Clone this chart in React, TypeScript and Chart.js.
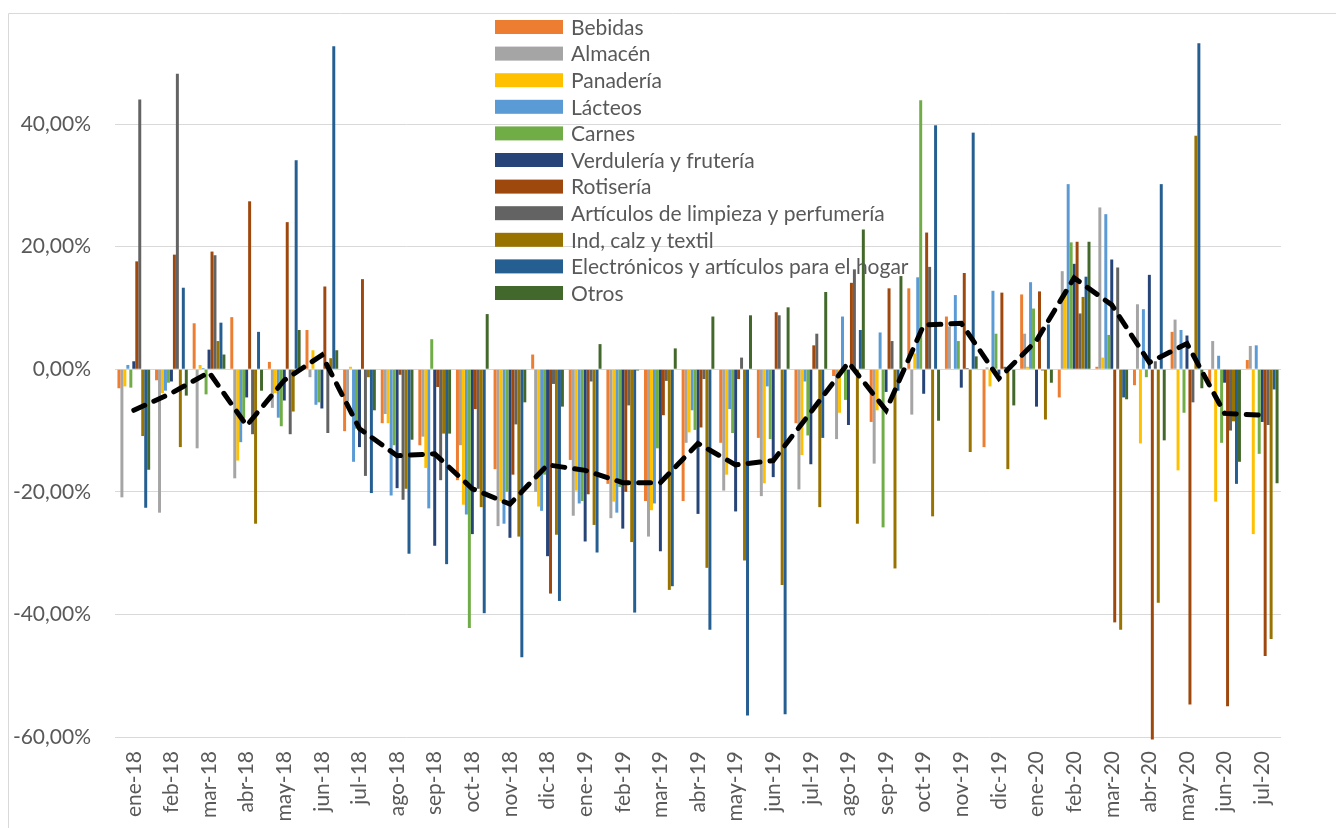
import { useEffect, useRef } from 'react';
import { Chart, registerables } from 'chart.js';
Chart.register(...registerables);

const months = ['ene-18','feb-18','mar-18','abr-18','may-18','jun-18','jul-18','ago-18','sep-18','oct-18','nov-18','dic-18','ene-19','feb-19','mar-19','abr-19','may-19','jun-19','jul-19','ago-19','sep-19','oct-19','nov-19','dic-19','ene-20','feb-20','mar-20','abr-20','may-20','jun-20','jul-20'];

const bebidas = [-3.1,-1.8,7.5,8.5,1.2,6.4,-10.1,-8.8,-12.4,-18.1,-16.3,2.4,-14.8,-18.7,-21.5,-21.5,-12.0,-11.2,-8.8,-1.1,-8.6,13.2,8.6,-12.7,12.2,-4.6,0.4,-2.6,6.1,-2.2,1.5];
const almacen = [-20.9,-23.4,-12.9,-17.8,-6.3,-1.3,-5.2,-7.3,-11.0,-12.4,-25.6,-20.0,-23.9,-24.3,-27.3,-12.0,-19.8,-20.7,-19.6,-11.4,-15.4,-7.4,7.0,0.3,5.8,16.0,26.4,10.6,8.1,4.6,3.8];
const panaderia = [-2.8,-3.9,0.7,-14.9,-3.9,3.1,0.4,-8.8,-16.1,-22.1,-21.5,-22.4,-19.8,-21.6,-23.0,-10.3,-17.2,-18.6,-14.0,-7.1,-6.7,2.6,-0.1,-2.8,0.4,13.0,1.9,-12.1,-16.5,-21.6,-26.9];
const lacteos = [0.7,-3.5,0.2,-11.9,-7.9,-5.8,-15.1,-20.6,-22.7,-23.7,-25.2,-23.1,-21.9,-23.4,-21.9,-6.7,-6.5,-2.8,-2.0,8.6,6.0,15.0,12.1,12.8,14.2,30.2,25.3,9.8,6.4,2.2,3.9];
const carnes = [-3.0,-2.2,-4.1,-8.0,-9.3,-5.4,-9.7,-12.4,4.9,-42.2,-20.0,-17.2,-21.5,-19.2,-12.9,-9.9,-10.4,-11.4,-10.8,-5.0,-25.8,43.9,4.6,5.8,9.9,20.7,5.6,-1.3,-7.1,-12.0,-13.8];
const verduleria = [1.3,-2.0,3.2,-4.6,-5.1,-6.4,-12.7,-19.4,-28.8,-26.9,-27.5,-30.5,-28.1,-26.0,-29.7,-23.6,-23.2,-17.6,-15.5,-9.1,-3.7,-4.0,-3.0,-0.9,-6.1,17.2,17.9,15.4,5.5,-2.2,-8.6];
const rotiseria = [17.6,18.7,19.2,27.4,24.0,13.5,14.7,-0.9,-2.9,-6.5,-17.2,-36.6,-20.4,-20.0,-7.5,-9.5,-1.6,9.3,3.9,14.1,13.2,22.3,15.7,12.5,12.7,20.8,-41.3,-60.4,-54.7,-55.0,-46.8];
const articulos = [44.0,48.2,18.6,-10.6,-10.6,-10.4,-17.4,-21.3,-18.1,-19.5,-9.0,-2.4,-2.0,-5.9,-1.9,-1.6,1.9,8.8,5.8,16.3,4.6,16.7,0.2,0.4,-0.2,9.1,16.6,1.3,-5.4,-10.0,-9.1];
const indCalzTextil = [-10.9,-12.7,4.6,-25.2,-6.9,1.8,-1.3,-19.5,-10.5,-22.5,-27.3,-27.0,-25.4,-28.2,-36.0,-32.4,-31.2,-35.2,-22.5,-25.2,-32.5,-24.0,-13.5,-16.3,-8.2,11.8,-42.5,-38.1,38.1,-8.5,-44.0];
const electronicos = [-22.6,13.3,7.6,6.1,34.1,52.7,-20.2,-30.1,-31.8,-39.8,-47.0,-37.8,-29.9,-39.7,-35.4,-42.5,-56.5,-56.3,-11.2,6.4,-3.5,39.8,38.6,0.2,7.3,15.1,-4.6,30.2,53.2,-18.7,-3.3];
const otros = [-16.4,-4.3,2.4,-3.5,6.4,3.1,-6.7,-11.5,-10.5,9.0,-5.4,-6.1,4.1,-0.2,3.4,8.6,8.8,10.1,12.6,22.8,15.2,-8.4,2.1,-5.9,-2.2,20.8,-4.9,-11.6,-3.1,-15.1,-18.6];
const promedio = [-6.7,-3.9,-0.5,-9.2,-1.8,2.3,-9.7,-14.1,-13.8,-19.5,-22.0,-15.6,-16.5,-18.5,-18.5,-12.1,-15.6,-14.9,-7.0,1.1,-6.7,7.2,7.5,-1.5,4.7,14.9,10.5,1.1,4.2,-7.2,-7.5];

const seriesNames = ['Bebidas','Almacén','Panadería','Lácteos','Carnes','Verdulería y frutería','Rotisería','Artículos de limpieza y perfumería','Ind, calz y textil','Electrónicos y artículos para el hogar','Otros'];
const seriesData = [bebidas, almacen, panaderia, lacteos, carnes, verduleria, rotiseria, articulos, indCalzTextil, electronicos, otros];
const seriesColors = ['#ED7D31','#A5A5A5','#FFC000','#5B9BD5','#70AD47','#264478','#9E480E','#636363','#997300','#255E91','#43682B'];
const yTicks = [-60, -40, -20, 0, 20, 40];

const FONT = 'Lato';
const TEXT = '#595959';
const GRID = '#d9d9d9';

const frameAndLegend = {
  id: 'frameAndLegend',
  beforeDraw(chart: any) {
    const ctx = chart.ctx;
    ctx.save();
    ctx.strokeStyle = GRID;
    ctx.lineWidth = 1;
    ctx.beginPath();
    ctx.moveTo(8.5, chart.height + 2);
    ctx.lineTo(8.5, 13.5);
    ctx.lineTo(chart.width + 2, 13.5);
    ctx.stroke();
    ctx.restore();
  },
  afterDraw(chart: any) {
    const ctx = chart.ctx;
    ctx.save();
    ctx.font = `21px ${FONT}`;
    ctx.textBaseline = 'middle';
    ctx.textAlign = 'left';
    seriesNames.forEach((name, i) => {
      const cy = 27 + 26.6 * i;
      ctx.fillStyle = seriesColors[i];
      ctx.fillRect(495, cy - 7, 68, 14);
      ctx.fillStyle = TEXT;
      ctx.fillText(name, 571, cy + 1);
    });
    ctx.restore();
  },
};

export default function App() {
  const ref = useRef<HTMLCanvasElement>(null);
  useEffect(() => {
    document.body.style.margin = '0';
    const datasets: any[] = seriesNames.map((name, i) => ({
      type: 'bar',
      label: name,
      data: seriesData[i],
      backgroundColor: seriesColors[i],
      borderWidth: 0,
      categoryPercentage: 0.87,
      barPercentage: 1.0,
      order: 1,
      clip: false,
    }));
    datasets.push({
      type: 'line',
      label: 'Promedio',
      data: promedio,
      borderColor: '#000000',
      borderWidth: 5,
      borderDash: [12, 10],
      borderCapStyle: 'round',
      pointRadius: 0,
      fill: false,
      tension: 0,
      order: 0,
    });
    const chart = new Chart(ref.current!, {
      type: 'bar',
      data: { labels: months, datasets },
      options: {
        responsive: true,
        maintainAspectRatio: false,
        animation: false,
        layout: { padding: { top: 26, right: 55, left: 0, bottom: 0 } },
        plugins: { legend: { display: false }, tooltip: { enabled: false } },
        scales: {
          x: {
            grid: { display: false, drawTicks: false },
            border: { display: false },
            ticks: {
              color: TEXT,
              font: { family: FONT, size: 21 },
              minRotation: 90,
              maxRotation: 90,
              autoSkip: false,
              padding: 14,
            },
            afterFit(scale: any) {
              scale.height = 91;
              scale.paddingLeft = 0;
              scale.paddingRight = 0;
            },
          },
          y: {
            min: -60,
            max: 56,
            grid: { color: GRID, lineWidth: 1, drawTicks: false, tickLength: 0 },
            border: { display: false },
            ticks: {
              stepSize: 20,
              color: TEXT,
              font: { family: FONT, size: 21 },
              padding: 24,
              callback: (v: any) => Number(v).toFixed(2).replace('.', ',') + '%',
            },
            afterBuildTicks(scale: any) {
              scale.ticks = yTicks.map((v) => ({ value: v }));
            },
            afterFit(scale: any) {
              scale.width = 115;
              scale.paddingTop = 0;
              scale.paddingBottom = 0;
            },
          },
        },
      },
      plugins: [frameAndLegend],
    } as any);
    return () => chart.destroy();
  }, []);
  return (
    <div style={{ width: 1336, height: 828, position: 'relative' }}>
      <canvas ref={ref} />
    </div>
  );
}
